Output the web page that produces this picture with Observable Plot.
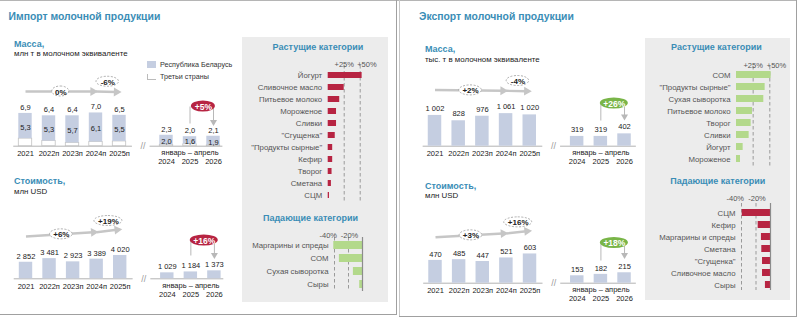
<!DOCTYPE html>
<html><head><meta charset="utf-8">
<script src="https://cdn.jsdelivr.net/npm/d3@7"></script>
<script src="https://cdn.jsdelivr.net/npm/@observablehq/plot@0.6"></script>
<style>
html,body{margin:0;padding:0;background:#fff;}
#c{position:relative;width:800px;height:320px;overflow:hidden;font-family:"Liberation Sans",Arial,sans-serif;}
#c svg{position:absolute;left:0;top:0;}
.t{position:absolute;white-space:nowrap;line-height:1;}
</style></head><body><div id="c"></div>
<script>
// ---------------- data ----------------
const years = ["2021","2022п","2023п","2024п","2025п"];
const periodYears = ["2024","2025","2026"];
const periodLabel = "январь – апрель";

const impMassTotal = [6.9,6.4,6.4,7.0,6.5];
const impMassRB = [5.3,5.3,5.7,6.1,5.5];
const impMassPeriodTotal = [2.3,2.0,2.1];
const impMassPeriodRB = [2.0,1.6,1.9];
const impMassGrowth = ["0%","-6%","+5%"];

const impValue = [2852,3481,2923,3389,4020];
const impValuePeriod = [1029,1184,1373];
const impValueGrowth = ["+6%","+19%","+16%"];

const expMass = [1002,828,976,1061,1020];
const expMassPeriod = [319,319,402];
const expMassGrowth = ["+2%","-4%","+26%"];

const expValue = [470,485,447,521,603];
const expValuePeriod = [153,182,215];
const expValueGrowth = ["+3%","+16%","+18%"];

const impUpCats = ["Йогурт","Сливочное масло","Питьевое молоко","Мороженое","Сливки","\"Сгущенка\"","\"Продукты сырные\"","Кефир","Творог","Сметана","СЦМ"];
const impUpVals = [53,25,18,13,13,11,7,7,6,5,2];
const impDownCats = ["Маргарины и спреды","СОМ","Сухая сыворотка","Сыры"];
const impDownVals = [-41,-33,-13,-4];
const expUpCats = ["СОМ","\"Продукты сырные\"","Сухая сыворотка","Питьевое молоко","Творог","Сливки","Йогурт","Мороженое"];
const expUpVals = [52,43,41,24,22,19,10,6];
const expDownCats = ["СЦМ","Кефир","Маргарины и спреды","Сметана","\"Сгущенка\"","Сливочное масло","Сыры"];
const expDownVals = [-39,-17,-12.5,-12,-11,-11,-7];
const upTicks = [25,50];
const downTicks = [-40,-20];

// ---------------- style ----------------
const BAR = "#c5cee1", TITLE = "#3a8db6", RED = "#b72442", GREEN = "#b3d98b", PILLG = "#79b548",
      ARROW = "#c6c6c6", AXIS = "#b3b3b3", FONT = '"Liberation Sans", Arial, sans-serif';
const svgStyle = {background:"transparent", fontFamily:FONT, fontSize:"7.5px", overflow:"visible"};

const c = document.getElementById("c");
function box(x,y,w,h,css){const d=document.createElement("div");d.style.cssText=`position:absolute;left:${x}px;top:${y}px;width:${w}px;height:${h}px;${css||""}`;c.appendChild(d);return d;}
function txt(x,y,s,css,mid){const d=document.createElement("div");d.className="t";d.textContent=s;d.style.cssText=`left:${x}px;top:${y}px;transform:translate(${mid?"-50%":"0"},-50%);${css||""}`;c.appendChild(d);return d;}

const fmtDec = v => v.toFixed(1).replace(".", ",");
const fmtInt = v => d3.format(",")(v).replace(/,/g, "\u00a0");

// frames / backgrounds
box(0,0,797,1,"background:#b5b5b5");
box(396,0,1,315,"background:#a0a0a0");
box(0,314,397,1,"background:#a0a0a0");
box(399,0,1,316,"background:#c8c8c8");
box(796,0,1,317,"background:#a0a0a0");
box(399,316,398,1,"background:#a0a0a0");
box(242,37,146,265,"background:#ececec");
box(645,38,145,262,"background:#ececec");

// ---------------- bar charts ----------------
function barChart(o) {
  const L = o.layout;
  const toU = py => (L.base - py) / L.ppu;
  const rows = years.map((label,k)=>({i:k, label, v:o.annual[k], rb:o.rb?o.rb[k]:null}))
    .concat(periodYears.map((label,k)=>({i:k+6, label, v:o.period[k], rb:o.rbP?o.rbP[k]:null})));
  const hw = 0.285;
  const a = L.arrowY;
  const segs = [{a:0,b:3,p1:a[0],p2:a[1]},{a:3,b:4,p1:a[1],p2:a[2]}];
  const ang = s => 90 + Math.atan2(s.p2 - s.p1, (s.b - s.a)*L.step)*180/Math.PI;
  const ells = [
    {i:1.5, py:(a[0]+a[1])/2, text:o.growth[0]},
    {i:3.5, py:(a[1]+a[2])/2 - 10, text:o.growth[1]}
  ].map(d => ({...d, w: 6 + 5.5*d.text.length, h: 10}));
  const pill = {i:7.57, py:L.pill.py, text:o.growth[2], w:12 + 4*o.growth[2].length, h:11};
  const legs = [{i:7, p1:L.pill.py, p2:L.pill.bottomL}, {i:8, p1:L.pill.py, p2:L.pill.bottomR - 3}];
  const marks = [
    Plot.ruleY(L.axis, {x1:d=>d[0], x2:d=>d[1], y:()=>0, stroke:AXIS, strokeWidth:1}),
    Plot.text(["//"], {x:()=>5, y:()=>0, text:d=>d, fill:"#999", fontSize:9})
  ];
  if (o.rb) {
    marks.push(Plot.rect(rows, {x1:d=>d.i-hw, x2:d=>d.i+hw, y1:()=>0, y2:d=>d.v-d.rb, fill:"white", stroke:"#c2c2c2", strokeWidth:0.8}));
    marks.push(Plot.rect(rows, {x1:d=>d.i-hw, x2:d=>d.i+hw, y1:d=>d.v-d.rb, y2:"v", fill:BAR}));
    marks.push(Plot.text(rows, {x:"i", y:d=>d.v-d.rb/2, text:d=>o.fmt(d.rb), dy:1.5, fill:"#222"}));
  } else {
    marks.push(Plot.rect(rows, {x1:d=>d.i-hw, x2:d=>d.i+hw, y1:()=>0, y2:"v", fill:BAR}));
  }
  marks.push(
    Plot.text(rows, {x:"i", y:"v", text:d=>o.fmt(d.v), dy:L.labelDy, fill:"#222"}),
    Plot.text(rows.filter(d=>d.i<5), {x:"i", y:()=>0, text:"label", dy:7.5, fill:"#222"}),
    Plot.text(rows.filter(d=>d.i>5), {x:"i", y:()=>0, text:"label", dy:15.3, fill:"#222"}),
    Plot.text([periodLabel], {x:()=>7, y:()=>0, text:d=>d, dy:6.5, fill:"#222"}),
    // growth arrows
    Plot.link(segs, {x1:"a", y1:d=>toU(d.p1), x2:d=>d.b-0.15, y2:d=>toU(d.p2), stroke:ARROW, strokeWidth:2.4}),
    Plot.dot(segs, {x:d=>d.b-0.13, y:d=>toU(d.p2), symbol:"triangle", r:3.3, fill:ARROW, rotate:ang}),
    Plot.rect(ells, {x1:d=>d.i-d.w/2/L.step, x2:d=>d.i+d.w/2/L.step, y1:d=>toU(d.py+d.h/2), y2:d=>toU(d.py-d.h/2), rx:30, ry:30, fill:"white", stroke:"#999", strokeDasharray:"2,1.5", strokeWidth:0.8}),
    Plot.text(ells, {x:"i", y:d=>toU(d.py), text:"text", fontWeight:"bold", fontSize:8, fill:"#222", dy:0.5}),
    // period bracket + pill
    Plot.link(legs, {x1:"i", x2:"i", y1:d=>toU(d.p1), y2:d=>toU(d.p2), stroke:"#b8b8b8", strokeWidth:1}),
    Plot.dot([legs[1]], {x:"i", y:()=>toU(L.pill.bottomR-2.5), symbol:"triangle", r:2.6, rotate:180, fill:"#b8b8b8"}),
    Plot.rect([pill], {x1:d=>d.i-d.w/2/L.step, x2:d=>d.i+d.w/2/L.step, y1:d=>toU(d.py+d.h/2), y2:d=>toU(d.py-d.h/2), rx:30, ry:30, fill:L.pill.color}),
    Plot.text([pill], {x:"i", y:d=>toU(d.py), text:"text", fill:"white", fontWeight:"bold", fontSize:8.5, dy:0.5})
  );
  return Plot.plot({
    width:800, height:320, margin:0,
    x:{domain:[0,8], range:[L.x0, L.x0 + 8*L.step], axis:null},
    y:{domain:[0,1], range:[L.base, L.base - L.ppu], axis:null},
    style:svgStyle, marks
  });
}

// ---------------- category charts ----------------
function catChart(o) {
  const rows = o.cats.map((cat,k)=>({cat, v:o.vals[k]}));
  const r0 = o.first - o.step/2, r1 = r0 + o.cats.length*o.step;
  const up = o.xDomain[0] === 0;
  const tickFmt = d => (d>0?"+":"")+d+"%";
  const marks = [
    Plot.ruleX(o.ticks, {stroke:"#9a9a9a", strokeDasharray:"3.5,2.5", strokeWidth:1}),
    Plot.barX(rows, {x:"v", y:"cat", fill:o.color}),
    Plot.text(o.ticks.slice(0,1), {x:d=>d, frameAnchor:"top", dy:o.tickDy, text:tickFmt, fill:"#555",
      textAnchor: up ? "middle" : "end", dx: up ? 0 : 2.5}),
    Plot.text(o.ticks.slice(1), {x:d=>d, frameAnchor:"top", dy:o.tickDy, text:tickFmt, fill:"#555",
      textAnchor: up ? "start" : "middle", dx: up ? -3 : 1}),
    Plot.text(rows, {x:()=>o.xDomain[0], y:"cat", text:"cat", textAnchor:"end", dx:-6, fill:"#555", fontSize:7.8})
  ];
  if (o.zero) marks.push(Plot.ruleX([0], {stroke:"#8c8c8c", strokeWidth:1.2}));
  return Plot.plot({
    width:800, height:320, marginTop:o.ext[0], marginBottom:320-o.ext[1], marginLeft:0, marginRight:0,
    x:{domain:o.xDomain, range:o.xRange, axis:null},
    y:{domain:o.cats, range:[r0,r1], paddingInner:o.pad, paddingOuter:o.pad/2, axis:null},
    style:svgStyle, marks
  });
}

const charts = [
  barChart({annual:impMassTotal, period:impMassPeriodTotal, rb:impMassRB, rbP:impMassPeriodRB, growth:impMassGrowth, fmt:fmtDec,
    layout:{x0:25, step:23.5, base:145.7, ppu:4.75, labelDy:-6, axis:[[-0.5,4.55],[5.3,8.4]], arrowY:[91,91,91.5],
      pill:{py:106, bottomL:123, bottomR:124, color:RED}}}),
  barChart({annual:impValue, period:impValuePeriod, growth:impValueGrowth, fmt:fmtInt,
    layout:{x0:25.5, step:23.55, base:278.3, ppu:0.0058, labelDy:-6, axis:[[-0.5,4.55],[5.3,8.4]], arrowY:[236,231.7,229.3],
      pill:{py:240, bottomL:255, bottomR:257, color:RED}}}),
  barChart({annual:expMass, period:expMassPeriod, growth:expMassGrowth, fmt:fmtInt,
    layout:{x0:434.5, step:23.69, base:145.7, ppu:0.0307, labelDy:-7, axis:[[-0.5,4.55],[5.3,8.5]], arrowY:[89.5,90.3,90.7],
      pill:{py:103, bottomL:120, bottomR:118.5, color:PILLG}}}),
  barChart({annual:expValue, period:expValuePeriod, growth:expValueGrowth, fmt:fmtInt,
    layout:{x0:435, step:23.63, base:282.7, ppu:0.0485, labelDy:-6, axis:[[-0.5,4.55],[5.3,8.5]], arrowY:[236.7,233,230.7],
      pill:{py:242.5, bottomL:260, bottomR:257, color:PILLG}}}),
  catChart({cats:impUpCats, vals:impUpVals, color:RED, ticks:upTicks, xDomain:[0,50], xRange:[327.7,359.7], first:72.7, step:12.5, pad:0.5, ext:[65,203], tickDy:-3.5}),
  catChart({cats:impDownCats, vals:impDownVals, color:GREEN, ticks:downTicks, xDomain:[-40,0], xRange:[334,362], first:244, step:13.67, pad:0.35, ext:[237,291], tickDy:-4.5, zero:true}),
  catChart({cats:expUpCats, vals:expUpVals, color:GREEN, ticks:upTicks, xDomain:[0,50], xRange:[736,769.3], first:72.7, step:12.57, pad:0.44, ext:[66,166], tickDy:-4}),
  catChart({cats:expDownCats, vals:expDownVals, color:RED, ticks:downTicks, xDomain:[-40,0], xRange:[741,770], first:210.7, step:12.55, pad:0.42, ext:[203,290], tickDy:-8, zero:true})
];
charts.forEach(ch => c.appendChild(ch));

// ---------------- texts ----------------
const H1 = `font-weight:bold;font-size:10.4px;color:${TITLE}`;
const H2 = `font-weight:bold;font-size:9px;color:${TITLE}`;
const SUB = `font-size:7.9px;color:#222`;
txt(8.5, 17, "Импорт молочной продукции", H1);
txt(419, 17, "Экспорт молочной продукции", H1);
txt(14, 44, "Масса,", H2);
txt(14, 53.5, "млн т в молочном эквиваленте", SUB);
txt(14, 181, "Стоимость,", H2);
txt(14, 191.5, "млн USD", SUB);
txt(425, 49.3, "Масса,", H2);
txt(425, 60, "тыс. т в молочном эквиваленте", SUB);
txt(425, 186, "Стоимость,", H2);
txt(425, 195.5, "млн USD", SUB);
txt(318, 47, "Растущие категории", H2, true);
txt(310.5, 217.7, "Падающие категории", H2, true);
txt(716.5, 47.3, "Растущие категории", H2, true);
txt(717.8, 181, "Падающие категории", H2, true);
// legend
box(147, 61, 9, 7, `background:${BAR}`);
box(147, 73.5, 9, 6, "background:#fff;border-left:1px solid #bbb;border-bottom:1px solid #bbb;box-sizing:border-box");
txt(160, 65, "Республика Беларусь", "font-size:7.2px;color:#333");
txt(160, 77, "Третьи страны", "font-size:7.2px;color:#333");
</script></body></html>
